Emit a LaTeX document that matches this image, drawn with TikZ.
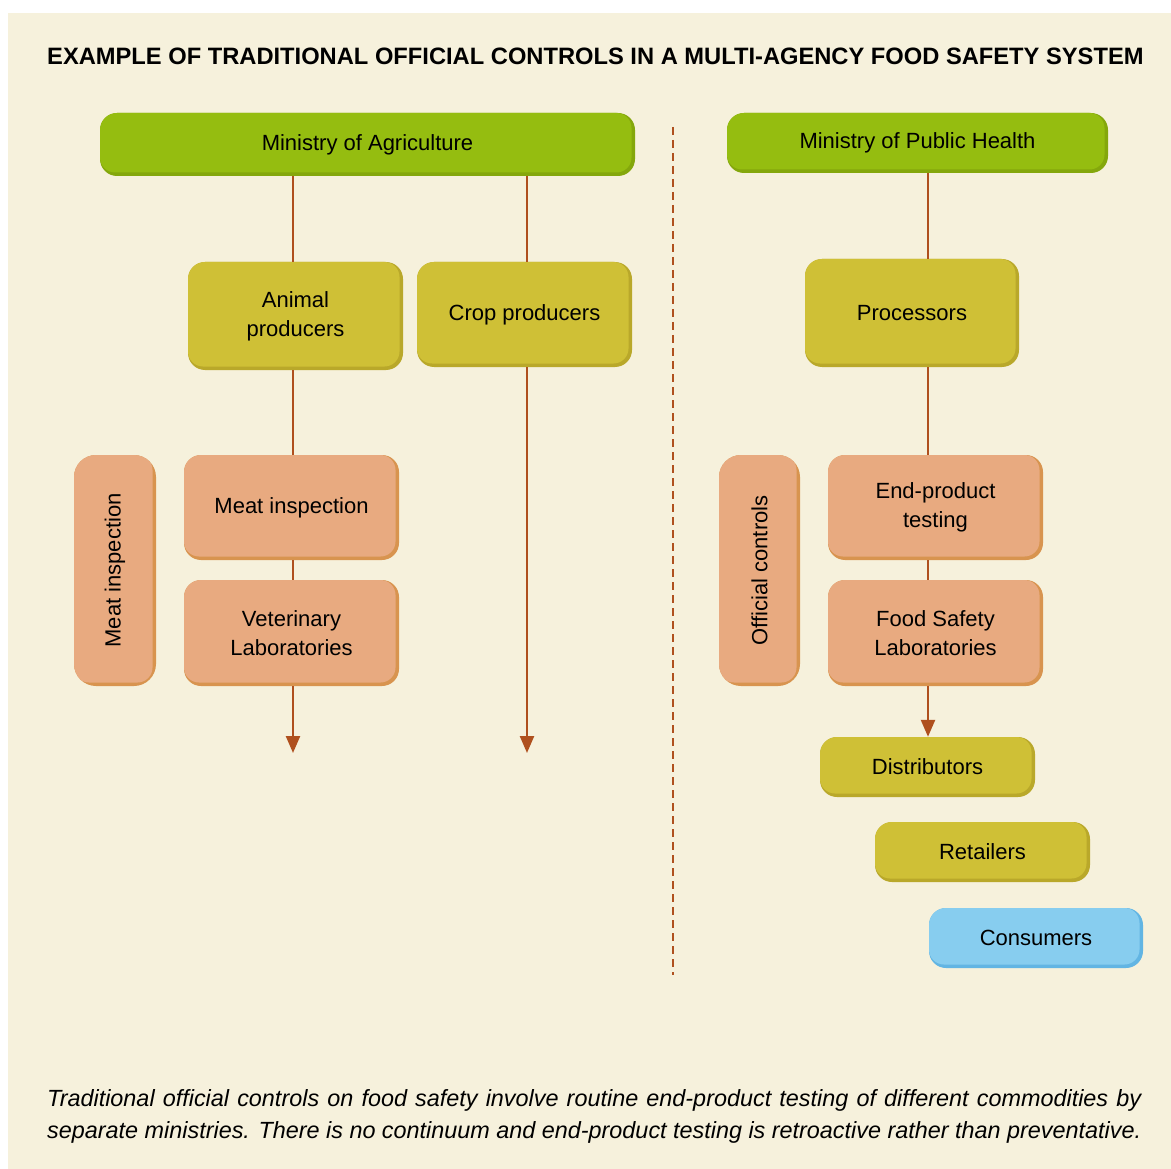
\documentclass[tikz,border=0pt]{standalone}
\usepackage{fontspec}
\setmainfont{Liberation Sans}
\usepackage{xcolor}
\usepackage{tikz}
\usetikzlibrary{arrows.meta, calc}

\definecolor{paper}{HTML}{F6F1DC}
\definecolor{agri}{HTML}{95BD10}
\definecolor{agriedge}{HTML}{84A70C}
\definecolor{olive}{HTML}{CFC036}
\definecolor{oliveedge}{HTML}{B9A82A}
\definecolor{salmon}{HTML}{E8AA80}
\definecolor{salmonedge}{HTML}{D8944F}
\definecolor{sky}{HTML}{87CDEF}
\definecolor{skyedge}{HTML}{62B5E3}
\definecolor{flow}{HTML}{AF501E}

\newcommand{\boxfont}{\fontsize{22}{29}\selectfont}

\tikzset{
  box/.style={rounded corners=17pt, inner sep=0pt, align=center, font=\boxfont,
              minimum width=215pt, minimum height=106pt},
  tint/.style 2 args={fill=#2, path picture={
      \fill[#1, rounded corners=15pt] (path picture bounding box.north west)
        rectangle ([shift={(-3.5pt,3.5pt)}]path picture bounding box.south east);}},
  link/.style={draw=flow, line width=2.4pt},
  tip/.style={link, -{Triangle[length=17pt,width=14pt]}},
}

\begin{document}
\begin{tikzpicture}[x=1pt,y=-1pt]
            % page and panel
            \useasboundingbox (0,0) rectangle (1171,1169);
            \fill[white] (0,0) rectangle (1171,1169);
            \fill[paper] (8,13) rectangle (1171,1169);

            % title
            \node[anchor=base west, inner sep=0pt, font=\fontsize{23.7}{28}\selectfont\bfseries] (title) at (47,65)
              {EXAMPLE OF TRADITIONAL OFFICIAL CONTROLS IN A MULTI-AGENCY FOOD SAFETY SYSTEM};

            % divider
            \draw[flow, line width=2.4pt, dash pattern=on 8pt off 5pt] (673,127) -- (673,975);

            % ministries
            \node[box, tint={agri}{agriedge}, minimum width=535pt, minimum height=63pt] (agri) at (367.5,144.5) {Ministry of Agriculture};
            \node[box, tint={agri}{agriedge}, minimum width=381pt, minimum height=60pt] (health) at (917.5,143) {Ministry of Public Health};

            % producers
            \node[box, tint={olive}{oliveedge}, minimum height=108pt] (animal) at (295.5,316) {Animal\\producers};
            \node[box, tint={olive}{oliveedge}, minimum height=105pt] (crop) at (524.5,314.5) {Crop producers};
            \node[box, tint={olive}{oliveedge}, minimum width=214pt, minimum height=108pt] (processors) at (912,313) {Processors};

            % controls, left side
            \node[box, tint={salmon}{salmonedge}, minimum width=82pt, minimum height=231pt, rounded corners=22pt] (meatside) at (115,570.5) {\rotatebox{90}{Meat inspection}};
            \node[box, tint={salmon}{salmonedge}, minimum height=105pt] (meat) at (291.5,507.5) {Meat inspection};
            \node[box, tint={salmon}{salmonedge}] (vet) at (291.5,633) {Veterinary\\Laboratories};

            % controls, right side
            \node[box, tint={salmon}{salmonedge}, minimum width=81pt, minimum height=231pt, rounded corners=22pt] (official) at (759.5,570.5) {\rotatebox{90}{Official controls}};
            \node[box, tint={salmon}{salmonedge}, minimum height=105pt] (endprod) at (935.5,507.5) {End-product\\testing};
            \node[box, tint={salmon}{salmonedge}] (foodlab) at (935.5,633) {Food Safety\\Laboratories};

            % chain to consumers
            \node[box, tint={olive}{oliveedge}, minimum height=60pt] (distrib) at (927.5,767) {Distributors};
            \node[box, tint={olive}{oliveedge}, minimum height=60pt] (retail) at (982.5,852) {Retailers};
            \node[box, tint={sky}{skyedge}, minimum width=214pt, minimum height=60pt] (consumers) at (1036,938) {Consumers};

            % line columns and free ends
            \coordinate (lcol) at (293,0);
            \coordinate (ccol) at (527,0);
            \coordinate (rcol) at (928,0);
            \coordinate (animalend) at (293,753);
            \coordinate (cropend) at (527,753);

            % left links
            \draw[link] (agri.south -| lcol) -- (animal.north -| lcol);
            \draw[link] (animal.south -| lcol) -- (meat.north -| lcol);
            \draw[link] (meat.south -| lcol) -- (vet.north -| lcol);
            \draw[tip] (vet.south -| lcol) -- (animalend);
            \draw[link] (agri.south -| ccol) -- (crop.north -| ccol);
            \draw[tip] (crop.south -| ccol) -- (cropend);

            % right links
            \draw[link] (health.south -| rcol) -- (processors.north -| rcol);
            \draw[link] (processors.south -| rcol) -- (endprod.north -| rcol);
            \draw[link] (endprod.south -| rcol) -- (foodlab.north -| rcol);
            \draw[tip] (foodlab.south -| rcol) -- (distrib.north -| rcol);

            % caption
            \node[anchor=north west, inner sep=0pt, text width=1094pt, align=justify, font=\fontsize{23.4}{32}\selectfont\itshape] (caption) at (47,1089)
              {Traditional official controls on food safety involve routine end-product testing of different commodities by\linebreak
               separate ministries. There is no continuum and end-product testing is retroactive rather than preventative.};
\end{tikzpicture}
\end{document}
